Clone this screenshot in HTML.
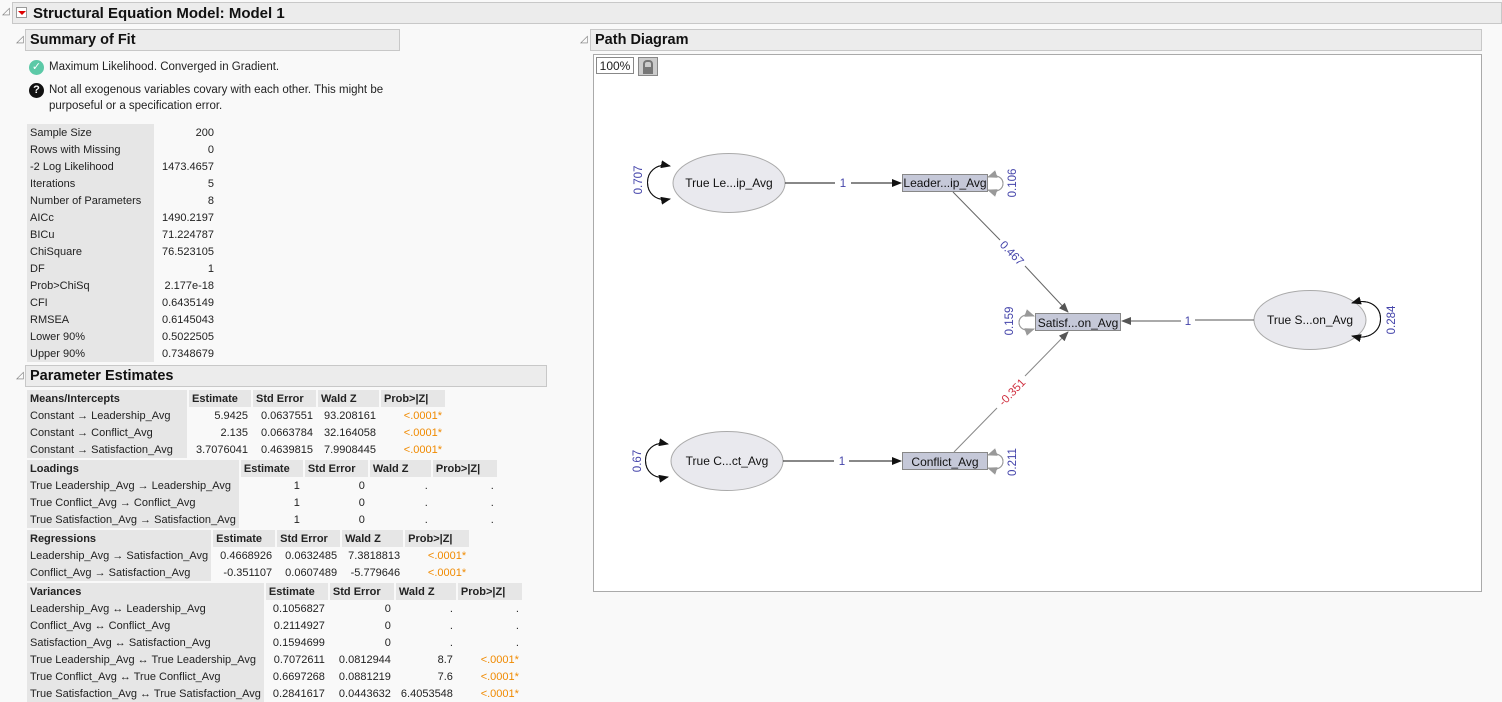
<!DOCTYPE html>
<html><head><meta charset="utf-8"><style>
body{margin:0;width:1502px;height:702px;background:#f9f9f9;font-family:"Liberation Sans",sans-serif;font-size:11.5px;color:#222;position:relative;overflow:hidden}
.bar{position:absolute;background:#ececec;border:1px solid #c8c8c8;font-weight:bold;font-size:14.5px;color:#111;box-sizing:border-box;padding:2px 0 0 4px}
.tri{position:absolute;font-size:10px;color:#777}
.t{position:absolute;white-space:nowrap}
table{position:absolute;border-collapse:separate;border-spacing:2px 0;font-size:11px;table-layout:fixed}
td{height:17px;padding:0 3px;white-space:nowrap;box-sizing:border-box;overflow:visible}
td.l{background:#e6e6e6;text-align:left}
td.h{background:#e6e6e6;font-weight:bold}
td.r{text-align:right}
.o{color:#f08a00}
</style></head><body>
<div class="tri" style="left:2px;top:6px">◿</div>
<div class="bar" style="left:12px;top:2px;width:1490px;height:22px;padding-left:20px;font-size:15px">Structural Equation Model: Model 1</div>
<div style="position:absolute;left:16px;top:7px;width:11px;height:11px;border:1px solid #999;background:#fff;box-sizing:border-box"><div style="margin:3px 0 0 1px;width:0;height:0;border-left:4px solid transparent;border-right:4px solid transparent;border-top:4px solid #d00"></div></div>

<div class="tri" style="left:16px;top:34px">◿</div>
<div class="bar" style="left:25px;top:29px;width:375px;height:22px">Summary of Fit</div>
<div style="position:absolute;left:29px;top:60px;width:15px;height:15px;border-radius:50%;background:#5cc9a7;color:#fff;font-size:11px;text-align:center;line-height:15px">✓</div>
<div class="t" style="left:49px;top:61px">Maximum Likelihood. Converged in Gradient.</div>
<div style="position:absolute;left:29px;top:83px;width:15px;height:15px;border-radius:50%;background:#111;color:#fff;font-size:11px;font-weight:bold;text-align:center;line-height:15px">?</div>
<div class="t" style="left:49px;top:84px">Not all exogenous variables covary with each other. This might be</div>
<div class="t" style="left:49px;top:100px">purposeful or a specification error.</div>

<table style="left:27px;top:124px;border-spacing:0">
<tr><td class="l" style="width:127px">Sample Size</td><td class="r" style="width:63px">200</td></tr>
<tr><td class="l">Rows with Missing</td><td class="r">0</td></tr>
<tr><td class="l">-2 Log Likelihood</td><td class="r">1473.4657</td></tr>
<tr><td class="l">Iterations</td><td class="r">5</td></tr>
<tr><td class="l">Number of Parameters</td><td class="r">8</td></tr>
<tr><td class="l">AICc</td><td class="r">1490.2197</td></tr>
<tr><td class="l">BICu</td><td class="r">71.224787</td></tr>
<tr><td class="l">ChiSquare</td><td class="r">76.523105</td></tr>
<tr><td class="l">DF</td><td class="r">1</td></tr>
<tr><td class="l">Prob&gt;ChiSq</td><td class="r">2.177e-18</td></tr>
<tr><td class="l">CFI</td><td class="r">0.6435149</td></tr>
<tr><td class="l">RMSEA</td><td class="r">0.6145043</td></tr>
<tr><td class="l">Lower 90%</td><td class="r">0.5022505</td></tr>
<tr><td class="l">Upper 90%</td><td class="r">0.7348679</td></tr>
</table>

<div class="tri" style="left:16px;top:370px">◿</div>
<div class="bar" style="left:25px;top:365px;width:522px;height:22px">Parameter Estimates</div>

<table style="left:25px;top:390px">
<tr><td class="h" style="width:160px">Means/Intercepts</td><td class="h" style="width:62px">Estimate</td><td class="h" style="width:63px">Std Error</td><td class="h" style="width:61px">Wald Z</td><td class="h" style="width:64px">Prob&gt;|Z|</td></tr>
<tr><td class="l">Constant → Leadership_Avg</td><td class="r">5.9425</td><td class="r">0.0637551</td><td class="r">93.208161</td><td class="r o">&lt;.0001*</td></tr>
<tr><td class="l">Constant → Conflict_Avg</td><td class="r">2.135</td><td class="r">0.0663784</td><td class="r">32.164058</td><td class="r o">&lt;.0001*</td></tr>
<tr><td class="l">Constant → Satisfaction_Avg</td><td class="r">3.7076041</td><td class="r">0.4639815</td><td class="r">7.9908445</td><td class="r o">&lt;.0001*</td></tr>
</table>
<table style="left:25px;top:460px">
<tr><td class="h" style="width:210px">Loadings</td><td class="h" style="width:62px">Estimate</td><td class="h" style="width:63px">Std Error</td><td class="h" style="width:61px">Wald Z</td><td class="h" style="width:64px">Prob&gt;|Z|</td></tr>
<tr><td class="l">True Leadership_Avg → Leadership_Avg</td><td class="r">1</td><td class="r">0</td><td class="r">.</td><td class="r">.</td></tr>
<tr><td class="l">True Conflict_Avg → Conflict_Avg</td><td class="r">1</td><td class="r">0</td><td class="r">.</td><td class="r">.</td></tr>
<tr><td class="l">True Satisfaction_Avg → Satisfaction_Avg</td><td class="r">1</td><td class="r">0</td><td class="r">.</td><td class="r">.</td></tr>
</table>
<table style="left:25px;top:530px">
<tr><td class="h" style="width:181px">Regressions</td><td class="h" style="width:62px">Estimate</td><td class="h" style="width:63px">Std Error</td><td class="h" style="width:61px">Wald Z</td><td class="h" style="width:64px">Prob&gt;|Z|</td></tr>
<tr><td class="l">Leadership_Avg → Satisfaction_Avg</td><td class="r">0.4668926</td><td class="r">0.0632485</td><td class="r">7.3818813</td><td class="r o">&lt;.0001*</td></tr>
<tr><td class="l">Conflict_Avg → Satisfaction_Avg</td><td class="r">-0.351107</td><td class="r">0.0607489</td><td class="r">-5.779646</td><td class="r o">&lt;.0001*</td></tr>
</table>
<table style="left:25px;top:583px">
<tr><td class="h" style="width:235px">Variances</td><td class="h" style="width:62px">Estimate</td><td class="h" style="width:64px">Std Error</td><td class="h" style="width:60px">Wald Z</td><td class="h" style="width:64px">Prob&gt;|Z|</td></tr>
<tr><td class="l">Leadership_Avg ↔ Leadership_Avg</td><td class="r">0.1056827</td><td class="r">0</td><td class="r">.</td><td class="r">.</td></tr>
<tr><td class="l">Conflict_Avg ↔ Conflict_Avg</td><td class="r">0.2114927</td><td class="r">0</td><td class="r">.</td><td class="r">.</td></tr>
<tr><td class="l">Satisfaction_Avg ↔ Satisfaction_Avg</td><td class="r">0.1594699</td><td class="r">0</td><td class="r">.</td><td class="r">.</td></tr>
<tr><td class="l">True Leadership_Avg ↔ True Leadership_Avg</td><td class="r">0.7072611</td><td class="r">0.0812944</td><td class="r">8.7</td><td class="r o">&lt;.0001*</td></tr>
<tr><td class="l">True Conflict_Avg ↔ True Conflict_Avg</td><td class="r">0.6697268</td><td class="r">0.0881219</td><td class="r">7.6</td><td class="r o">&lt;.0001*</td></tr>
<tr><td class="l">True Satisfaction_Avg ↔ True Satisfaction_Avg</td><td class="r">0.2841617</td><td class="r">0.0443632</td><td class="r">6.4053548</td><td class="r o">&lt;.0001*</td></tr>
</table>

<div class="tri" style="left:580px;top:34px">◿</div>
<div class="bar" style="left:590px;top:29px;width:892px;height:22px">Path Diagram</div>
<div style="position:absolute;left:593px;top:54px;width:889px;height:538px;background:#fff;border:1px solid #aaa;box-sizing:border-box"></div>
<div style="position:absolute;left:596px;top:57px;width:38px;height:17px;border:1px solid #888;background:#fff;font-size:12px;text-align:center;line-height:16px;box-sizing:border-box">100%</div>
<div style="position:absolute;left:638px;top:57px;width:20px;height:19px;border:1px solid #888;background:#ccc;box-sizing:border-box"><div style="margin:2px auto 0;width:6px;height:5px;border:2px solid #777;border-bottom:none;border-radius:4px 4px 0 0"></div><div style="margin:0 auto;width:10px;height:7px;background:#777"></div></div>

<svg style="position:absolute;left:0;top:0" width="1502" height="702" font-family="Liberation Sans, sans-serif">
<defs>
<marker id="ab" markerWidth="10" markerHeight="8" refX="9" refY="4" orient="auto" markerUnits="userSpaceOnUse"><path d="M0,0L10,4L0,8z" fill="#111"/></marker>
<marker id="ag" markerWidth="10" markerHeight="8" refX="9" refY="4" orient="auto" markerUnits="userSpaceOnUse"><path d="M0,0L10,4L0,8z" fill="#555"/></marker>
<marker id="al" markerWidth="10" markerHeight="8" refX="9" refY="4" orient="auto" markerUnits="userSpaceOnUse"><path d="M0,0L10,4L0,8z" fill="#999"/></marker>
</defs>
<ellipse cx="729" cy="183" rx="56" ry="29.5" fill="#e9e9ee" stroke="#aaa"/>
<ellipse cx="727" cy="461" rx="56" ry="29.5" fill="#e9e9ee" stroke="#aaa"/>
<ellipse cx="1310" cy="320" rx="56" ry="29.5" fill="#e9e9ee" stroke="#aaa"/>
<text x="729" y="187" font-size="12" text-anchor="middle" fill="#111">True Le...ip_Avg</text>
<text x="727" y="465" font-size="12" text-anchor="middle" fill="#111">True C...ct_Avg</text>
<text x="1310" y="324" font-size="12" text-anchor="middle" fill="#111">True S...on_Avg</text>
<rect x="902.5" y="174.5" width="85" height="17" fill="#c5c8d8" stroke="#888"/>
<rect x="902.5" y="452.5" width="85" height="17" fill="#c5c8d8" stroke="#888"/>
<rect x="1035.5" y="313.5" width="85" height="17" fill="#c5c8d8" stroke="#888"/>
<text x="945" y="187" font-size="12" text-anchor="middle" fill="#111">Leader...ip_Avg</text>
<text x="945" y="466" font-size="12" text-anchor="middle" fill="#111">Conflict_Avg</text>
<text x="1078" y="327" font-size="12" text-anchor="middle" fill="#111">Satisf...on_Avg</text>
<line x1="785" y1="183" x2="835" y2="183" stroke="#111"/>
<line x1="851" y1="183" x2="901" y2="183" stroke="#111" marker-end="url(#ab)"/>
<text x="843" y="187" font-size="11.5" text-anchor="middle" fill="#44a">1</text>
<line x1="783" y1="461" x2="834" y2="461" stroke="#111"/>
<line x1="849" y1="461" x2="901" y2="461" stroke="#111" marker-end="url(#ab)"/>
<text x="842" y="465" font-size="11.5" text-anchor="middle" fill="#44a">1</text>
<line x1="1254" y1="320" x2="1195" y2="320" stroke="#555"/>
<line x1="1181" y1="321" x2="1122" y2="321" stroke="#555" marker-end="url(#ag)"/>
<text x="1188" y="325" font-size="11.5" text-anchor="middle" fill="#44a">1</text>
<line x1="953" y1="192" x2="1000" y2="240" stroke="#666"/>
<line x1="1025" y1="266" x2="1068" y2="312" stroke="#666" marker-end="url(#ag)"/>
<text x="1012" y="257" font-size="11.5" text-anchor="middle" fill="#44a" transform="rotate(46 1012 253)">0.467</text>
<line x1="954" y1="452" x2="997" y2="408" stroke="#888"/>
<line x1="1025" y1="376" x2="1068" y2="332" stroke="#888" marker-end="url(#ag)"/>
<text x="1012" y="396" font-size="11.5" text-anchor="middle" fill="#d03040" transform="rotate(-46 1012 392)">-0.351</text>
<path d="M670,166 C640,160 640,205 670,199" fill="none" stroke="#111" marker-end="url(#ab)"/>
<path d="M670,199 C640,205 640,160 670,166" fill="none" stroke="#111" marker-end="url(#ab)"/>
<text transform="translate(642 180) rotate(-90)" font-size="11.5" text-anchor="middle" fill="#44a">0.707</text>
<path d="M668,444 C638,438 638,483 668,477" fill="none" stroke="#111" marker-end="url(#ab)"/>
<path d="M668,477 C638,483 638,438 668,444" fill="none" stroke="#111" marker-end="url(#ab)"/>
<text transform="translate(641 461) rotate(-90)" font-size="11.5" text-anchor="middle" fill="#44a">0.67</text>
<path d="M1352,303 C1390,292 1390,345 1352,336" fill="none" stroke="#111" marker-end="url(#ab)"/>
<path d="M1352,336 C1390,345 1390,292 1352,303" fill="none" stroke="#111" marker-end="url(#ab)"/>
<text transform="translate(1395 320) rotate(-90)" font-size="11.5" text-anchor="middle" fill="#44a">0.284</text>
<path d="M988,177 C1008,170 1008,197 988,190" fill="none" stroke="#999" marker-end="url(#al)"/>
<path d="M988,190 C1008,197 1008,170 988,177" fill="none" stroke="#999" marker-end="url(#al)"/>
<text transform="translate(1016 183) rotate(-90)" font-size="11.5" text-anchor="middle" fill="#44a">0.106</text>
<path d="M988,455 C1008,448 1008,475 988,468" fill="none" stroke="#999" marker-end="url(#al)"/>
<path d="M988,468 C1008,475 1008,448 988,455" fill="none" stroke="#999" marker-end="url(#al)"/>
<text transform="translate(1016 462) rotate(-90)" font-size="11.5" text-anchor="middle" fill="#44a">0.211</text>
<path d="M1034,316 C1014,309 1014,336 1034,329" fill="none" stroke="#999" marker-end="url(#al)"/>
<path d="M1034,329 C1014,336 1014,309 1034,316" fill="none" stroke="#999" marker-end="url(#al)"/>
<text transform="translate(1013 321) rotate(-90)" font-size="11.5" text-anchor="middle" fill="#44a">0.159</text>
</svg>
</body></html>
